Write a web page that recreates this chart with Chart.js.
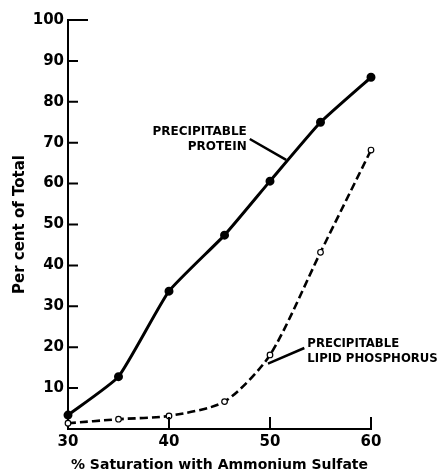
<!DOCTYPE html>
<html>
<head>
<meta charset="utf-8">
<script src="https://cdn.jsdelivr.net/npm/chart.js@4"></script>
<style>
	body { margin: 0; background: #fff; }
	canvas { display: block; }
</style>
</head>
<body>
<canvas id="satChart" width="438" height="474"></canvas>
<script>
// values
const saturation = [30, 35, 40, 45.5, 50, 55, 60];
const protein = [3.4, 12.8, 33.7, 47.4, 60.6, 75, 86];
const lipidPhosphorus = [1.4, 2.4, 3.2, 6.7, 18.1, 43.2, 68.2];

const xTicks = [30, 40, 50, 60];
const yTicks = [10, 20, 30, 40, 50, 60, 70, 80, 90, 100];

const FONT = "'DejaVu Sans', sans-serif";

// points for the linear x scale
const toPoints = (ys) => saturation.map((x, i) => ({x: x, y: ys[i]}));

// inward tick marks + the two labels with leader lines
const extras = {
	id: 'extras',
	afterDatasetsDraw(chart) {
		const {ctx, scales: {x, y}} = chart;
		ctx.save();
		ctx.strokeStyle = '#000';
		ctx.lineWidth = 2;
		ctx.lineCap = 'butt';
		ctx.beginPath();
		yTicks.forEach(v => {
			const py = y.getPixelForValue(v);
			ctx.moveTo(x.left, py);
			ctx.lineTo(x.left + (v === 100 ? 20 : 10), py);
		});
		xTicks.slice(1).forEach(v => {
			const px = x.getPixelForValue(v);
			ctx.moveTo(px, y.bottom);
			ctx.lineTo(px, y.bottom - 12);
		});
		ctx.stroke();

		// labels
		ctx.fillStyle = '#000';
		ctx.font = 'bold 12px ' + FONT;
		ctx.textBaseline = 'middle';
		ctx.textAlign = 'right';
		ctx.fillText('PRECIPITABLE', x.getPixelForValue(47.7), y.getPixelForValue(72.6));
		ctx.fillText('PROTEIN', x.getPixelForValue(47.7), y.getPixelForValue(69.1));
		ctx.textAlign = 'left';
		ctx.font = 'bold 11.7px ' + FONT;
		ctx.fillText('PRECIPITABLE', x.getPixelForValue(53.7), y.getPixelForValue(20.9));
		ctx.fillText('LIPID PHOSPHORUS', x.getPixelForValue(53.7), y.getPixelForValue(17.2));

		ctx.lineWidth = 2.5;
		ctx.beginPath();
		ctx.moveTo(x.getPixelForValue(48.0), y.getPixelForValue(70.9));
		ctx.lineTo(x.getPixelForValue(51.6), y.getPixelForValue(65.8));
		ctx.moveTo(x.getPixelForValue(53.4), y.getPixelForValue(19.8));
		ctx.lineTo(x.getPixelForValue(49.8), y.getPixelForValue(16.0));
		ctx.stroke();
		ctx.restore();
	}
};

const config = {
	type: 'line',
	data: {
		datasets: [
			{
				label: 'Precipitable protein',
				data: toPoints(protein),
				borderColor: '#000',
				borderWidth: 3,
				pointRadius: 3,
				pointBackgroundColor: '#000',
				pointBorderColor: '#000',
				tension: 0.15,
				clip: false
			},
			{
				label: 'Precipitable lipid phosphorus',
				data: toPoints(lipidPhosphorus),
				borderColor: '#000',
				borderWidth: 2.6,
				borderDash: [8, 4],
				pointRadius: 2.8,
				pointBackgroundColor: '#fff',
				pointBorderColor: '#000',
				pointBorderWidth: 1.2,
				tension: 0.25,
				clip: false
			}
		]
	},
	options: {
		responsive: false,
		animation: false,
		layout: {
			padding: {top: 20, right: 67, left: 0, bottom: 0}
		},
		plugins: {
			legend: {display: false},
			tooltip: {enabled: false}
		},
		scales: {
			x: {
				type: 'linear',
				min: 30,
				max: 60,
				afterFit: (s) => { s.height = 45; },
				afterBuildTicks: (s) => { s.ticks = xTicks.map(v => ({value: v})); },
				grid: {display: false, drawTicks: false},
				border: {display: true, color: '#000', width: 2},
				ticks: {
					color: '#000',
					padding: 4,
					maxRotation: 0,
					font: {family: FONT, size: 15, weight: 'bold'}
				},
				title: {
					display: true,
					text: '% Saturation with Ammonium Sulfate',
					color: '#000',
					padding: {top: 0, bottom: 0},
					font: {family: FONT, size: 14, weight: 'bold'}
				}
			},
			y: {
				min: 0,
				max: 100,
				afterFit: (s) => { s.width = 68; },
				afterBuildTicks: (s) => { s.ticks = yTicks.map(v => ({value: v})); },
				grid: {display: false, drawTicks: false},
				border: {display: true, color: '#000', width: 2},
				ticks: {
					color: '#000',
					padding: 4,
					font: {family: FONT, size: 15, weight: 'bold'}
				},
				title: {
					display: true,
					text: 'Per cent of Total',
					color: '#000',
					padding: {top: 11, bottom: 0},
					font: {family: FONT, size: 15, weight: 'bold'}
				}
			}
		}
	},
	plugins: [extras]
};

const satChart = new Chart(document.getElementById('satChart'), config);
</script>
</body>
</html>
